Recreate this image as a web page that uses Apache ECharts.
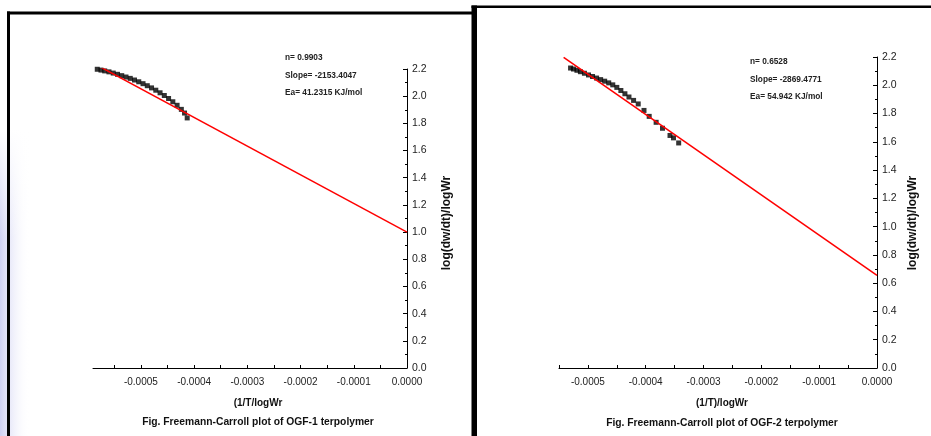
<!DOCTYPE html>
<html>
<head>
<meta charset="utf-8">
<script src="https://cdn.jsdelivr.net/npm/echarts@6/dist/echarts.min.js"></script>
<style>
  html, body { margin: 0; padding: 0; background: #fff; }
  #chart { width: 931px; height: 436px; }
</style>
</head>
<body>
<div id="chart"></div>
<script>
// OGF-1 measured points (1/T/logWr, log(dw/dt)/logWr)
const ogf1X = [-0.000582, -0.000575, -0.000568, -0.000560, -0.000552, -0.000544, -0.000536, -0.000528,
  -0.000520, -0.000512, -0.000504, -0.000496, -0.000488, -0.000480, -0.000472, -0.000464,
  -0.000456, -0.000448, -0.000440, -0.000432, -0.000424, -0.000418, -0.000413];
const ogf1Y = [2.198, 2.192, 2.186, 2.179, 2.170, 2.161, 2.151, 2.141,
  2.131, 2.119, 2.106, 2.092, 2.077, 2.061, 2.044, 2.025,
  2.005, 1.983, 1.959, 1.933, 1.903, 1.876, 1.840];
// OGF-1 fitted line end points
const fit1X = [-0.00059, 0];
const fit1Y = [2.244, 1.0];

// OGF-2 measured points
const ogf2X = [-0.000530, -0.000525, -0.000519, -0.000513, -0.000506, -0.000499, -0.000492, -0.000485,
  -0.000478, -0.000471, -0.000464, -0.000457, -0.000450, -0.000443, -0.000436, -0.000429,
  -0.000421, -0.000413, -0.000403, -0.000394, -0.000382, -0.000371, -0.000358, -0.000352, -0.000343];
const ogf2Y = [2.122, 2.115, 2.106, 2.096, 2.085, 2.073, 2.062, 2.051,
  2.040, 2.029, 2.017, 2.003, 1.985, 1.963, 1.940, 1.917,
  1.893, 1.868, 1.822, 1.780, 1.738, 1.696, 1.645, 1.628, 1.592];
const fit2X = [-0.000542, 0];
const fit2Y = [2.198, 0.655];

// axis ticks
const xLabelVals = [-0.0005, -0.0004, -0.0003, -0.0002, -0.0001, 0];
const xTickVals = [-0.00055, -0.0005, -0.00045, -0.0004, -0.00035, -0.0003, -0.00025,
  -0.0002, -0.00015, -0.0001, -0.00005, 0];

const notes1 = ['n= 0.9903', 'Slope= -2153.4047', 'Ea= 41.2315 KJ/mol'];
const notes2 = ['n= 0.6528', 'Slope= -2869.4771', 'Ea= 54.942 KJ/mol'];
const xName1 = '(1/T/logWr';
const xName2 = '(1/T)/logWr';
const yName = 'log(dw/dt)/logWr';
const caption1 = 'Fig. Freemann-Carroll plot of OGF-1 terpolymer';
const caption2 = 'Fig. Freemann-Carroll plot of OGF-2 terpolymer';

const FONT = '"Liberation Sans", Arial, sans-serif';

function pairs(xs, ys) {
  return xs.map((x, i) => [x, ys[i]]);
}

function xAxisFor(idx, min) {
  return {
    gridIndex: idx,
    type: 'value',
    min: min,
    max: 0,
    axisLine: { onZero: false, lineStyle: { color: '#000', width: 1 } },
    axisTick: { inside: true, length: 3, customValues: xTickVals, lineStyle: { color: '#000' } },
    axisLabel: {
      customValues: xLabelVals,
      formatter: v => v.toFixed(4),
      color: '#222', fontSize: 10, fontFamily: FONT, margin: 9
    },
    splitLine: { show: false }
  };
}

function yAxisFor(idx) {
  return {
    gridIndex: idx,
    type: 'value',
    position: 'right',
    min: 0,
    max: 2.2,
    interval: 0.2,
    axisLine: { show: true, lineStyle: { color: '#000', width: 1 } },
    axisTick: { inside: true, length: 4, lineStyle: { color: '#000' } },
    minorTick: { show: true, splitNumber: 2, length: 2, lineStyle: { color: '#000' } },
    axisLabel: {
      formatter: v => v.toFixed(1),
      color: '#222', fontSize: 10.5, fontFamily: FONT, margin: 5
    },
    splitLine: { show: false }
  };
}

function noteTexts(lines, x, y0, dy) {
  return lines.map((t, i) => ({
    type: 'text', left: x, top: y0 + i * dy,
    style: { text: t, fill: '#222', font: 'bold 8.3px ' + FONT }
  }));
}

function centerText(t, x, y, size, rot) {
  return {
    type: 'text', x: x, y: y, rotation: rot || 0,
    style: { text: t, fill: '#111', font: 'bold ' + size + 'px ' + FONT, align: 'center', verticalAlign: 'middle' }
  };
}

const chart = echarts.init(document.getElementById('chart'));
chart.setOption({
  backgroundColor: '#fff',
  animation: false,
  grid: [
    { left: 93, right: 931 - 407, top: 69, bottom: 436 - 368 },
    { left: 559, right: 931 - 877, top: 57, bottom: 436 - 368 }
  ],
  xAxis: [xAxisFor(0, -0.00059), xAxisFor(1, -0.00055)],
  yAxis: [yAxisFor(0), yAxisFor(1)],
  series: [
    {
      type: 'scatter', xAxisIndex: 0, yAxisIndex: 0, data: pairs(ogf1X, ogf1Y),
      symbol: 'rect', symbolSize: 5, itemStyle: { color: '#000' }, z: 2
    },
    {
      type: 'line', xAxisIndex: 0, yAxisIndex: 0, data: pairs(fit1X, fit1Y),
      symbol: 'none', lineStyle: { color: '#ff0000', width: 1.5 }, z: 3
    },
    {
      type: 'scatter', xAxisIndex: 1, yAxisIndex: 1, data: pairs(ogf2X, ogf2Y),
      symbol: 'rect', symbolSize: 5, itemStyle: { color: '#000' }, z: 2
    },
    {
      type: 'line', xAxisIndex: 1, yAxisIndex: 1, data: pairs(fit2X, fit2Y),
      symbol: 'none', lineStyle: { color: '#ff0000', width: 1.5 }, z: 3
    }
  ],
  graphic: [
    // faint lavender glow at the left edge, fading out upward
    {
      type: 'rect', shape: { x: 0, y: 130, width: 30, height: 306 }, silent: true, z: -2,
      style: {
        fill: new echarts.graphic.LinearGradient(0, 0, 1, 0, [
          { offset: 0, color: 'rgba(190,192,238,0.75)' },
          { offset: 1, color: 'rgba(255,255,255,0)' }
        ])
      }
    },
    {
      type: 'rect', shape: { x: 0, y: 129, width: 30, height: 110 }, silent: true, z: -1,
      style: {
        fill: new echarts.graphic.LinearGradient(0, 0, 0, 1, [
          { offset: 0, color: 'rgba(255,255,255,1)' },
          { offset: 1, color: 'rgba(255,255,255,0)' }
        ])
      }
    },
    // frames
    { type: 'rect', shape: { x: 7, y: 11.5, width: 465, height: 3 }, style: { fill: '#000' } },
    { type: 'rect', shape: { x: 7, y: 11.5, width: 3, height: 430 }, style: { fill: '#000' } },
    { type: 'rect', shape: { x: 471.5, y: 5.5, width: 460, height: 2.5 }, style: { fill: '#000' } },
    { type: 'rect', shape: { x: 471.5, y: 5.5, width: 5.5, height: 440 }, style: { fill: '#000' } },
    ...noteTexts(notes1, 285, 54, 17.5),
    ...noteTexts(notes2, 750, 58, 17.5),
    centerText(yName, 447, 223, 12, Math.PI / 2),
    centerText(yName, 913, 223, 12, Math.PI / 2),
    centerText(xName1, 258, 403, 10),
    centerText(xName2, 722, 403, 10),
    centerText(caption1, 258, 422, 10.3),
    centerText(caption2, 722, 423, 10.3)
  ]
});
</script>
</body>
</html>
